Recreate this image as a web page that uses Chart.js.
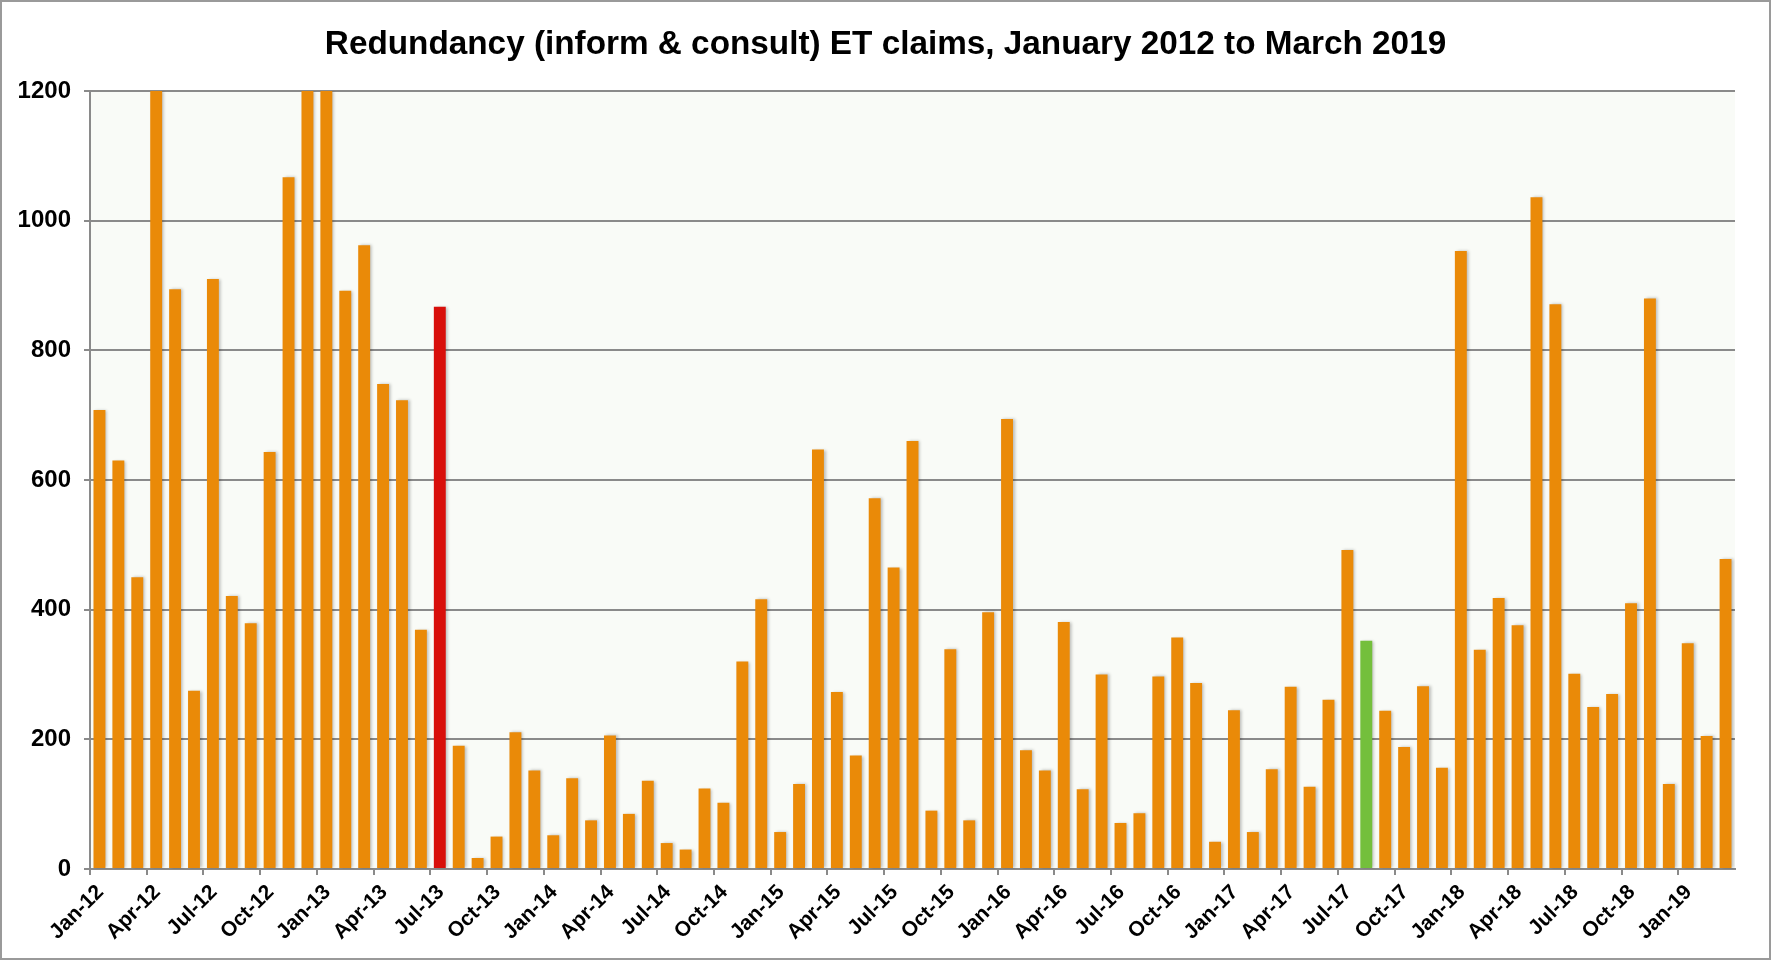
<!DOCTYPE html>
<html>
<head>
<meta charset="utf-8">
<script src="https://cdn.jsdelivr.net/npm/chart.js@4/dist/chart.umd.min.js"></script>
<style>
  body { margin: 0; background: #fff; }
  canvas { display: block; }
</style>
</head>
<body>
<canvas id="claimsChart" width="1771" height="960"></canvas>
<script>
const monthNames = ["Jan", "Feb", "Mar", "Apr", "May", "Jun", "Jul", "Aug", "Sep", "Oct", "Nov", "Dec"];
const years = ["12", "13", "14", "15", "16", "17", "18", "19"];

// monthly claims, Jan 2012 .. Mar 2019 (values above 1200 are cut off in the original)
const claims = [
    708, 630, 450, 1200, 894, 275, 910, 421, 379, 643, 1067, 1200,
    1200, 892, 962, 748, 723, 369, 867, 190, 17, 50, 211, 152,
    52, 140, 75, 206, 85, 136, 40, 30, 124, 102, 320, 416,
    57, 131, 647, 273, 175, 572, 465, 660, 90, 339, 75, 396,
    694, 183, 152, 381, 123, 300, 71, 86, 297, 357, 287, 42,
    245, 57, 154, 281, 127, 261, 492, 352, 244, 188, 282, 156,
    953, 338, 418, 376, 1036, 871, 301, 250, 270, 410, 880, 131,
    348, 205, 478
];

const yTicks = [0, 200, 400, 600, 800, 1000, 1200];
const redMonth = "Jul-13";
const greenMonth = "Aug-17";

const months = [];
years.forEach(y => monthNames.forEach(m => {
    if (months.length < claims.length) months.push(m + "-" + y);
}));

const barColors = months.map(m => m === redMonth ? "#d80f0a" : (m === greenMonth ? "#74bf3c" : "#ea8a08"));

const fontFamily = "'Liberation Sans', Arial, Helvetica, sans-serif";

// light plot background + outer frame
const chartDecor = {
    id: "chartDecor",
    beforeDraw(chart) {
        const { ctx, chartArea } = chart;
        ctx.save();
        ctx.fillStyle = "#f9fbf7";
        ctx.fillRect(chartArea.left, chartArea.top, chartArea.right - chartArea.left, chartArea.bottom - chartArea.top);
        ctx.restore();
    },
    afterDraw(chart) {
        const ctx = chart.ctx;
        ctx.save();
        ctx.strokeStyle = "#9a9a9a";
        ctx.lineWidth = 2;
        ctx.strokeRect(1, 1, chart.width - 2, chart.height - 2);
        ctx.restore();
    }
};

// soft shadow to the right of each bar
const barShadow = {
    id: "barShadow",
    beforeDatasetsDraw(chart) {
        const c = chart.ctx;
        c.save();
        c.shadowColor = "rgba(0,0,0,0.25)";
        c.shadowBlur = 3;
        c.shadowOffsetX = 2;
        c.shadowOffsetY = 0;
    },
    afterDatasetsDraw(chart) {
        chart.ctx.restore();
    }
};

const ctx = document.getElementById("claimsChart").getContext("2d");

new Chart(ctx, {
    type: "bar",
    data: {
        labels: months,
        datasets: [{
            label: "ET claims",
            data: claims,
            backgroundColor: barColors,
            borderWidth: 0,
            categoryPercentage: 1.0,
            barPercentage: 0.63
        }]
    },
    options: {
        responsive: false,
        animation: false,
        layout: { padding: 0 },
        plugins: {
            legend: { display: false },
            tooltip: { enabled: false },
            title: {
                display: true,
                text: "Redundancy (inform & consult) ET claims, January 2012 to March 2019",
                color: "#000",
                font: { family: fontFamily, size: 33.3, weight: "bold" },
                padding: { top: 25, bottom: 26 }
            }
        },
        scales: {
            x: {
                offset: true,
                grid: {
                    offset: true,
                    drawOnChartArea: false,
                    drawTicks: true,
                    tickLength: 6,
                    lineWidth: 2,
                    color: c => (c.index % 3 === 0 ? "#8a8a8a" : "rgba(0,0,0,0)")
                },
                border: { display: true, color: "#8a8a8a", width: 2 },
                ticks: {
                    autoSkip: false,
                    minRotation: 45,
                    maxRotation: 45,
                    labelOffset: 1,
                    padding: 5,
                    color: "#000",
                    font: { family: fontFamily, size: 21, weight: "bold" },
                    callback: (v, i) => (i % 3 === 0 ? months[i] : "")
                },
                afterFit: s => { s.height = 91; }
            },
            y: {
                min: 0,
                max: 1200,
                afterBuildTicks: s => { s.ticks = yTicks.map(v => ({ value: v })); },
                grid: {
                    color: "#8a8a8a",
                    lineWidth: 2,
                    tickLength: 6
                },
                border: { display: true, color: "#8a8a8a", width: 2 },
                ticks: {
                    padding: 13,
                    color: "#000",
                    font: { family: fontFamily, size: 24, weight: "bold" },
                    callback: v => String(v)
                },
                afterFit: s => { s.width = 90; }
            },
            // empty strip on the right so the title stays centred on the whole picture
            yRight: {
                position: "right",
                display: true,
                grid: { display: false, drawTicks: false },
                border: { display: false },
                ticks: { display: false },
                afterFit: s => { s.width = 36; }
            }
        }
    },
    plugins: [chartDecor, barShadow]
});
</script>
</body>
</html>
